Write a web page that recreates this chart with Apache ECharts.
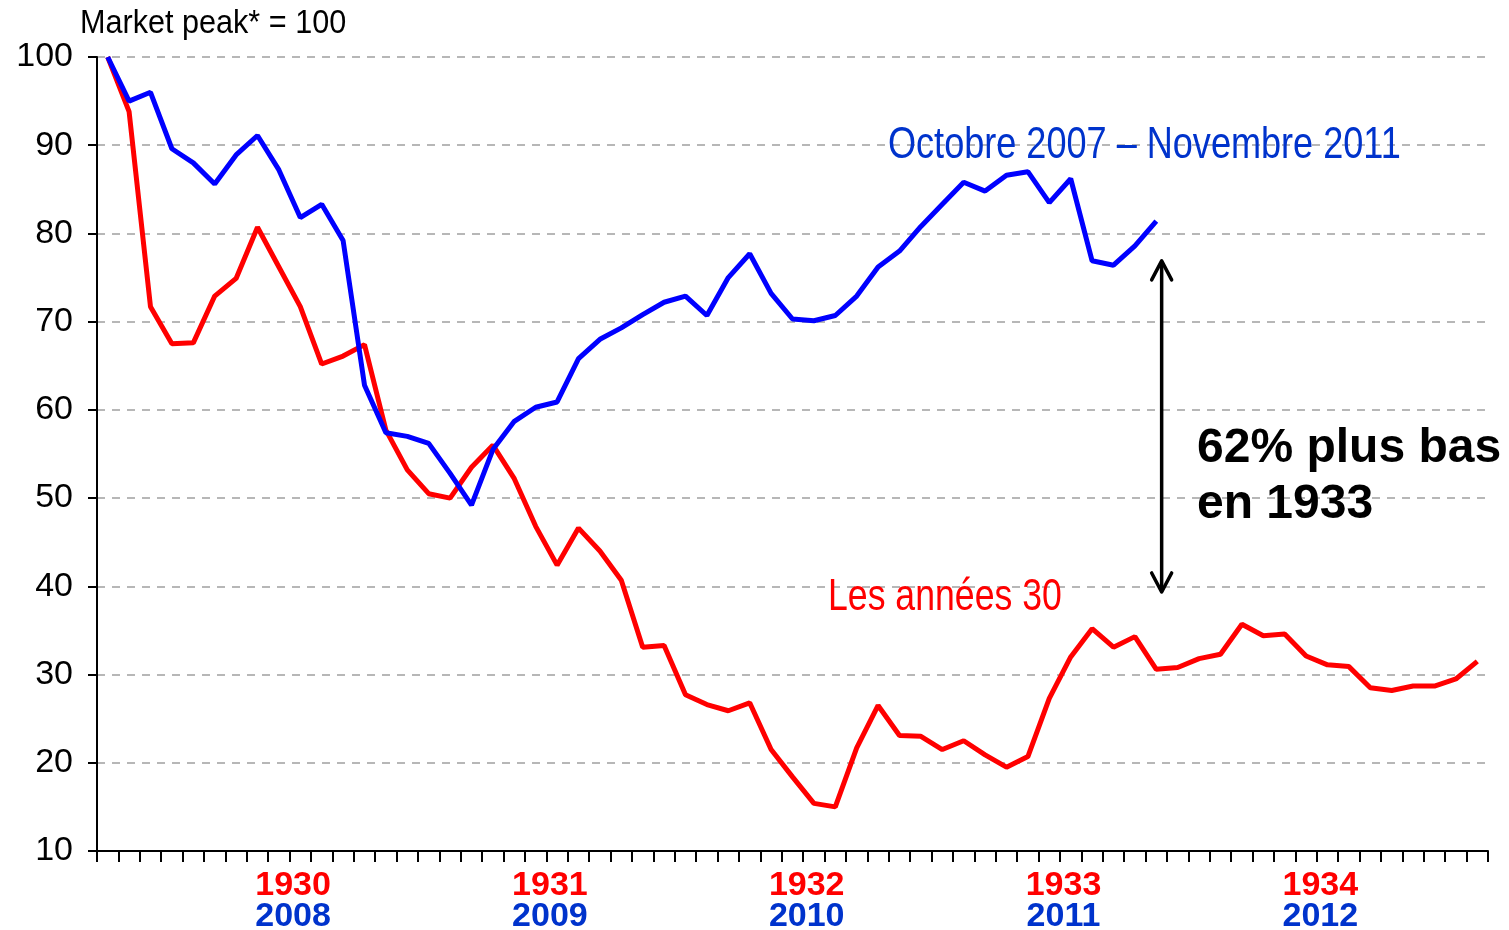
<!DOCTYPE html>
<html>
<head>
<meta charset="utf-8">
<script src="https://cdn.jsdelivr.net/npm/echarts@6/dist/echarts.min.js"></script>
<style>
html, body { margin: 0; padding: 0; background: #fff; }
#chart { width: 1509px; height: 930px; }
</style>
</head>
<body>
<div id="chart"></div>
<script>
// market peak = 100, one point per month from the peak
const years1930s = ['1930', '1931', '1932', '1933', '1934']
const years2000s = ['2008', '2009', '2010', '2011', '2012']
const yTicks = [10, 20, 30, 40, 50, 60, 70, 80, 90, 100]

const crash1929 = [100, 93.8, 71.7, 67.5, 67.6, 72.9, 74.9, 80.7, 76.2, 71.7,
    65.2, 66.1, 67.4, 57.7, 53.2, 50.5, 50.0, 53.5, 56.0, 52.2,
    46.8, 42.4, 46.6, 44.0, 40.7, 33.1, 33.3, 27.7, 26.6, 25.9,
    26.8, 21.5, 18.4, 15.4, 15.0, 21.7, 26.5, 23.1, 23.0, 21.5,
    22.5, 20.9, 19.5, 20.7, 27.3, 32.0, 35.2, 33.1, 34.3, 30.6,
    30.8, 31.8, 32.3, 35.7, 34.4, 34.6, 32.1, 31.1, 30.9, 28.5,
    28.2, 28.7, 28.7, 29.5, 31.5]

const crash2007 = [100, 95.0, 96.0, 89.6, 88.0, 85.6, 88.9, 91.1, 87.2, 81.8,
    83.3, 79.2, 62.8, 57.4, 57.0, 56.2, 52.8, 49.2, 55.5, 58.7,
    60.3, 60.9, 65.8, 68.0, 69.3, 70.8, 72.2, 72.9, 70.7, 75.0,
    77.7, 73.2, 70.3, 70.1, 70.7, 72.9, 76.2, 78.0, 80.8, 83.3,
    85.8, 84.8, 86.6, 87.0, 83.5, 86.2, 76.9, 76.4, 78.6, 81.4]

const RED = '#ff0000'
const BLUE = '#0000ff'
const BLUE_TEXT = '#0033cc'
const SANS = '"Liberation Sans", Arial, sans-serif'

// month i sits in the middle of its tick slot
const toPoints = arr => arr.map((v, i) => [i + 0.5, v])
const nMonths = crash1929.length

let myChart = echarts.init(document.getElementById('chart'))

let option = {
    backgroundColor: '#fff',
    animation: false,
    // keep the plot box fixed, the year labels may run to the bottom edge
    grid: { left: 97, right: 21, top: 57, bottom: 79, containLabel: false, outerBoundsMode: 'none' },
    xAxis: {
        type: 'value',
        min: 0,
        max: nMonths,
        interval: 1,
        axisLine: { onZero: false, lineStyle: { color: '#000', width: 2 } },
        axisTick: { length: 11, lineStyle: { color: '#000', width: 2 } },
        splitLine: { show: false },
        axisLabel: {
            margin: 19,
            showMinLabel: true,
            showMaxLabel: true,
            // year labels go in the middle of each year (month 9 = mid-year)
            formatter: v => {
                let k = (v - 9) / 12
                if (Number.isInteger(k) && k >= 0 && k < years1930s.length) {
                    return '{r|' + years1930s[k] + '}\n{b|' + years2000s[k] + '}'
                }
                return ''
            },
            rich: {
                r: { color: RED, fontSize: 34, fontWeight: 'bold', fontFamily: SANS, lineHeight: 31, padding: [0, 0, 0, 7] },
                b: { color: BLUE_TEXT, fontSize: 34, fontWeight: 'bold', fontFamily: SANS, lineHeight: 31, padding: [0, 0, 0, 7] }
            }
        }
    },
    yAxis: {
        type: 'value',
        min: yTicks[0],
        max: yTicks[yTicks.length - 1],
        interval: 10,
        axisLine: { show: true, lineStyle: { color: '#000', width: 2 } },
        axisTick: { show: true, length: 9, lineStyle: { color: '#000', width: 2 } },
        axisLabel: { color: '#000', fontSize: 34, fontFamily: SANS, margin: 24 },
        splitLine: { lineStyle: { color: '#a0a0a0', width: 1.5, type: [8, 7] } }
    },
    series: [
        {
            name: 'Les années 30',
            type: 'line',
            data: toPoints(crash1929),
            symbol: 'none',
            lineStyle: { color: RED, width: 5 },
            z: 2
        },
        {
            name: 'Octobre 2007 – Novembre 2011',
            type: 'line',
            data: toPoints(crash2007),
            symbol: 'none',
            lineStyle: { color: BLUE, width: 5 },
            z: 3
        }
    ]
}
myChart.setOption(option)

// double arrow between the two lows, placed through the axes
let arrowTop = myChart.convertToPixel({ xAxisIndex: 0, yAxisIndex: 0 }, [49.75, 77.0])
let arrowBot = myChart.convertToPixel({ xAxisIndex: 0, yAxisIndex: 0 }, [49.75, 39.25])
let ax = arrowTop[0]
let arrowStyle = { stroke: '#000', lineWidth: 3.5, lineCap: 'round', lineJoin: 'round', fill: null }

// no narrow font installed: squeeze Liberation Sans instead
function narrowText(text, x, y, size, color, squeeze) {
    return {
        type: 'text', x: x, y: y, scaleX: squeeze,
        style: { text: text, font: size + 'px ' + SANS, fill: color, textAlign: 'left', textVerticalAlign: 'top' }
    }
}

myChart.setOption({
    graphic: [
        narrowText('Market peak* = 100', 80, 7, 34, '#000', 0.9),
        narrowText('Octobre 2007 – Novembre 2011', 888, 124, 44, BLUE_TEXT, 0.82),
        narrowText('Les années 30', 828, 576, 44, RED, 0.81),
        {
            type: 'text', x: 1197, y: 421,
            style: { text: '62% plus bas\nen 1933', font: 'bold 48px ' + SANS, fill: '#000', lineHeight: 56, textVerticalAlign: 'top' }
        },
        {
            type: 'line',
            shape: { x1: ax, y1: arrowTop[1] + 2, x2: ax, y2: arrowBot[1] - 2 },
            style: arrowStyle
        },
        {
            type: 'polyline',
            shape: { points: [[ax - 10, arrowTop[1] + 20], [ax, arrowTop[1] + 1], [ax + 10, arrowTop[1] + 20]] },
            style: arrowStyle
        },
        {
            type: 'polyline',
            shape: { points: [[ax - 10, arrowBot[1] - 20], [ax, arrowBot[1] - 1], [ax + 10, arrowBot[1] - 20]] },
            style: arrowStyle
        }
    ]
})
</script>
</body>
</html>
